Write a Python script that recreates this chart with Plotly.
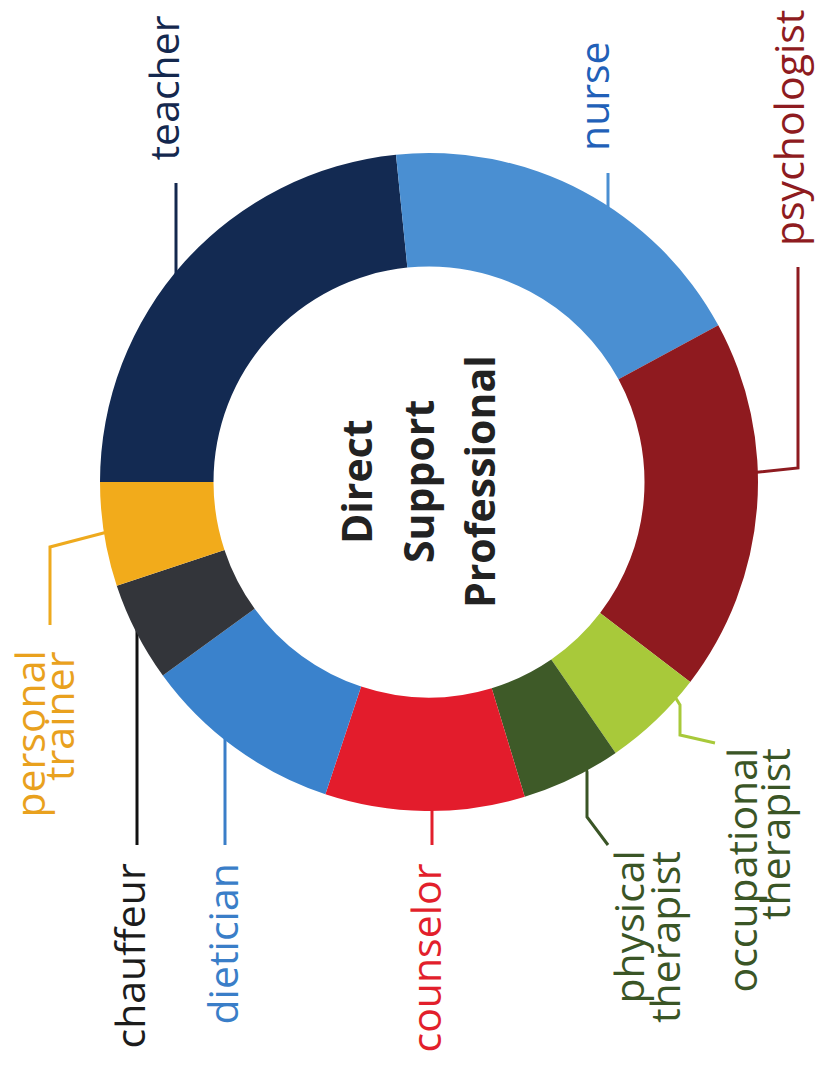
import plotly.graph_objects as go

# Share of each role within direct support work (percent)
roles = ["teacher", "nurse", "psychologist", "occupational therapist",
         "physical therapist", "counselor", "dietician", "chauffeur",
         "personal trainer"]
shares = [23.4, 18.7, 18.3, 5.0, 4.9, 9.8, 9.9, 4.9, 5.1]
slice_colors = ["#132a52", "#4a8fd2", "#8f1a1f", "#a8c93a", "#3e5a28",
                "#e31c2c", "#3a82cc", "#33353a", "#f2ab1b"]
label_colors = ["#14284e", "#2160b8", "#8e1b20", "#3a5526", "#3a5526",
                "#e21f2c", "#3a7ec8", "#1c1c1c", "#e9a11e"]
line_colors = ["#14284e", "#4a8fd2", "#8e1b20", "#a8c93a", "#3a5526",
               "#e21f2c", "#3a7ec8", "#111111", "#eeaa1e"]
center_lines = ["Direct", "Support", "Professional"]

W, H = 817, 1067
CX, CY, R = 429, 482, 329
FONT = "Open Sans"


def px(x, y):
    return x / W, 1 - y / H


# Label layout in page pixels: (text lines, line x positions, anchor y, anchor side)
label_layout = {
    "teacher": (["teacher"], [162], 163, "bottom"),
    "nurse": (["nurse"], [593], 153, "bottom"),
    "psychologist": (["psychologist"], [788], 248, "bottom"),
    "occupational therapist": (["occupational", "therapist"], [740, 774], 746, "top"),
    "physical therapist": (["physical", "therapist"], [627, 664], 849, "top"),
    "counselor": (["counselor"], [424], 862, "top"),
    "dietician": (["dietician"], [221], 862, "top"),
    "chauffeur": (["chauffeur"], [128], 861, "top"),
    "personal trainer": (["personal", "trainer"], [28, 58], 649, "top"),
}

# Leader polylines in page pixels (first point tucked under the ring)
leaders = {
    "teacher": [(176, 285), (176, 183)],
    "nurse": [(608, 215), (608, 173)],
    "psychologist": [(740, 474), (798, 468), (798, 267)],
    "occupational therapist": [(672, 692), (680, 705), (680, 735), (715, 743)],
    "physical therapist": [(584, 760), (587, 772), (587, 817), (608, 845)],
    "counselor": [(432, 795), (432, 845)],
    "dietician": [(225, 725), (225, 845)],
    "chauffeur": [(137, 615), (137, 845)],
    "personal trainer": [(115, 530), (50, 547), (50, 625)],
}

fig = go.Figure(go.Pie(
    labels=roles,
    values=shares,
    marker=dict(colors=slice_colors, line=dict(width=0)),
    hole=0.655,
    sort=False,
    direction="clockwise",
    rotation=270,
    textinfo="none",
    hoverinfo="label+percent",
    showlegend=False,
    domain=dict(x=[(CX - R) / W, (CX + R) / W],
                y=[1 - (CY + R) / H, 1 - (CY - R) / H]),
))

shapes = []
for role, color in zip(roles, line_colors):
    pts = [px(x, y) for x, y in leaders[role]]
    path = "M " + " L ".join(f"{x:.5f},{y:.5f}" for x, y in pts)
    shapes.append(dict(type="path", path=path, xref="paper", yref="paper",
                       line=dict(color=color, width=3), layer="below"))

annotations = []
for role, color in zip(roles, label_colors):
    lines, xs, y0, side = label_layout[role]
    for text, x in zip(lines, xs):
        ax, ay = px(x, y0)
        annotations.append(dict(
            text=text, x=ax, y=ay, xref="paper", yref="paper",
            xanchor="center", yanchor=side, textangle=-90, showarrow=False,
            font=dict(family=FONT, size=41, color=color)))

for text, x in zip(center_lines, [356, 418, 479]):
    ax, ay = px(x, CY)
    annotations.append(dict(
        text=text, x=ax, y=ay, xref="paper", yref="paper",
        xanchor="center", yanchor="middle", textangle=-90, showarrow=False,
        font=dict(family=FONT, size=41, color="#222222", weight=700)))

fig.update_layout(
    width=W, height=H,
    margin=dict(l=0, r=0, t=0, b=0),
    paper_bgcolor="white",
    plot_bgcolor="white",
    shapes=shapes,
    annotations=annotations,
)

fig.write_html("out.html")
